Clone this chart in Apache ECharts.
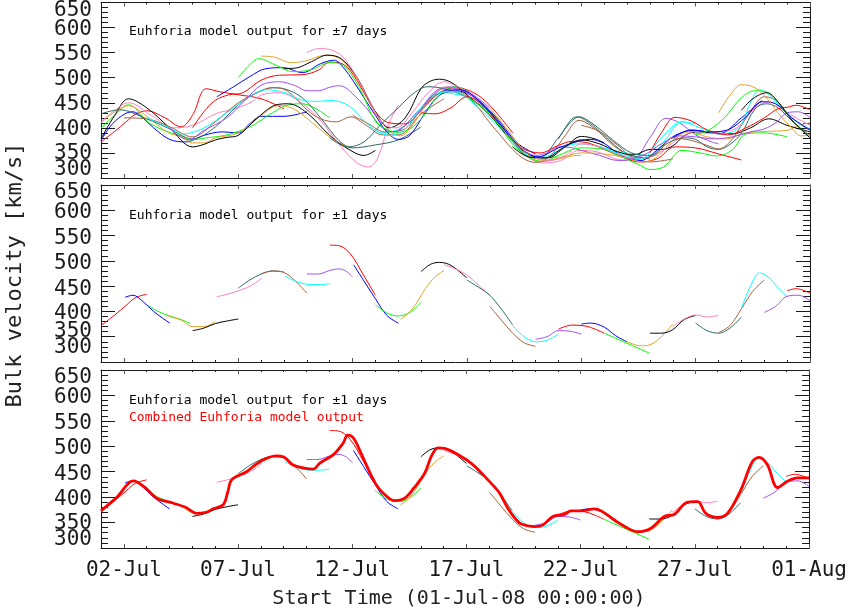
<!DOCTYPE html>
<html>
<head>
<meta charset="utf-8">
<title>Euhforia bulk velocity</title>
<script src="https://cdn.jsdelivr.net/npm/echarts@6/dist/echarts.min.js"></script>
<style>
  html, body { margin: 0; padding: 0; background: #fff; }
  #chart { width: 850px; height: 613px; }
</style>
</head>
<body>
<div id="chart"></div>
<script>
// x = days since 01-Jul-08 00:00, y = bulk velocity in km/s
const dayTicks = [1, 6, 11, 16, 21, 26, 31]
const dayLabels = ['02-Jul', '07-Jul', '12-Jul', '17-Jul', '22-Jul', '27-Jul', '01-Aug']
const runColors = ['#ff0000', '#0000ff', '#00ff00', '#e6a329', '#000000', '#ff80c0', '#2f6b66', '#a5623e', '#00ffff', '#a050f0']

// ±1 day output, one short piece per model run (run i covers days i..i+2)
const d00 = [[0,372],[0.6,393],[1.1,412],[1.5,427],[2.0,434]]
const d01 = [[1.05,428],[1.4,432],[1.8,421],[2.3,400],[3.0,377]]
const d02 = [[2.05,412],[2.5,400],[3.0,391],[3.5,384],[3.9,376]]
const d03 = [[2.95,390],[3.5,383],[4.0,370],[4.5,370],[5.0,380]]
const d04 = [[4.0,362],[4.5,367],[5.0,376],[5.5,381],[6.0,385]]
const d05 = [[5.06,429],[5.6,435],[6.1,442],[6.6,452],[7.03,466]]
const d06 = [[6.0,446],[6.5,462],[7.0,474],[7.5,480],[8.0,478]]
const d07 = [[7.0,474],[7.5,480],[8.0,477],[8.5,460],[9.0,436]]
const d08 = [[8.05,470],[8.6,458],[9.2,453],[9.6,453],[10.0,455]]
const d09 = [[9.0,474],[9.5,474],[10.0,481],[10.4,484],[10.7,480],[11.0,468]]
const d10 = [[10.0,531],[10.4,530],[10.9,514],[11.5,470],[12.0,432]]
const d11 = [[11.05,492],[11.5,460],[12.0,425],[12.5,392],[13.0,377]]
const d12 = [[12.0,413],[12.5,397],[13.0,391],[13.5,398],[14.0,418]]
const d13 = [[13.1,384],[13.6,404],[14.2,446],[14.6,468],[15.0,481]]
const d14 = [[14.0,479],[14.4,493],[14.8,497],[15.3,491],[16.0,466]]
const d15 = [[15.0,492],[15.5,484],[16.0,472],[16.5,452],[17.0,432]]
const d16 = [[16.0,462],[16.5,448],[17.0,432],[17.5,405],[18.0,373]]
const d17 = [[17.0,410],[17.5,383],[18.0,357],[18.5,338],[19.0,331]]
const d18 = [[18.0,372],[18.5,350],[19.0,340],[19.5,343],[20.0,355]]
const d19 = [[19.0,345],[19.5,350],[20.0,362],[20.5,361],[21.0,355]]
const d20 = [[20.0,365],[20.6,373],[21.2,371],[21.6,365],[22.0,357]]
const d21 = [[21.0,375],[21.4,377],[22.0,369],[22.5,352],[23.0,340]]
const d22 = [[22.0,357],[22.5,347],[23.0,337],[23.5,327],[24.0,317]]
const d23 = [[23.0,340],[23.6,332],[24.0,334],[24.5,350],[25.0,375]]
const d24 = [[24.0,357],[24.5,357],[25.0,364],[25.5,384],[26.0,392]]
const d25 = [[25.0,370],[25.5,385],[26.0,393],[26.5,389],[27.0,392]]
const d26 = [[26.0,377],[26.5,362],[27.0,357],[27.5,367],[28.0,389]]
const d27 = [[27.0,358],[27.5,372],[28.0,405],[28.5,440],[29.0,462]]
const d28 = [[28.0,406],[28.4,450],[28.8,476],[29.2,467],[29.6,447],[30.0,429]]
const d29 = [[29.0,398],[29.5,410],[30.0,430],[30.5,432],[31.0,421]]
const d30 = [[30.0,441],[30.4,445],[31.0,436]]

// ±7 day output, one line per model run (run i covers days i-6..i+8)
const w00 = [[0,372],[0.6,393],[1.1,412],[1.5,427],[2.0,434],[2.8,420],[3.5,402],[4.0,425],[4.6,478],[5.2,472],[6.0,466],[7.0,458],[8.0,438]]
const w01 = [[0,375],[0.5,408],[1.05,428],[1.4,432],[1.8,421],[2.3,400],[3.0,377],[3.7,372],[4.5,385],[5.3,392],[6.0,390],[6.5,408],[7.0,423],[8.0,423],[9.0,432]]
const w02 = [[0,400],[0.6,425],[1.2,446],[2.05,412],[2.5,400],[3.0,391],[3.5,384],[3.9,376],[4.6,380],[5.5,386],[6.5,402],[7.5,430],[8.2,446],[8.8,448],[9.4,438],[10.0,420]]
const w03 = [[0,410],[0.6,432],[1.2,444],[2.0,423],[2.95,390],[3.5,383],[4.0,370],[4.5,370],[5.0,380],[6.0,390],[7.0,425],[7.8,445],[8.5,436],[9.5,400],[10.3,372],[11.0,360]]
const w04 = [[0,378],[0.6,425],[1.2,458],[2.0,440],[3.0,400],[4.0,362],[4.5,367],[5.0,376],[5.5,381],[6.0,385],[6.8,418],[7.6,445],[8.2,448],[9.0,430],[10.0,385],[10.8,358],[11.5,345],[12.0,355]]
const w05 = [[0,412],[0.6,435],[1.2,450],[2.2,425],[3.2,400],[4.0,405],[5.06,429],[5.6,435],[6.1,442],[6.6,452],[7.03,466],[7.8,470],[8.6,455],[9.5,420],[10.5,362],[11.2,330],[11.7,322],[12.1,340],[12.6,410],[13.0,445]]
const w06 = [[0,428],[0.8,436],[2.0,418],[3.0,398],[4.0,378],[5.0,402],[6.0,446],[6.5,462],[7.0,474],[7.5,480],[8.0,478],[8.8,460],[9.6,420],[10.4,375],[11.0,360],[12.0,366],[13.0,376],[14.0,402]]
const w07 = [[1.0,420],[2.0,418],[3.0,402],[4.0,382],[5.0,412],[6.0,450],[7.0,474],[7.5,480],[8.0,477],[8.5,460],[9.0,436],[9.6,418],[10.3,412],[10.9,422],[11.6,405],[12.3,386],[13.0,386],[14.0,428],[15.0,458]]
const w08 = [[2.0,420],[3.0,400],[3.6,388],[4.5,400],[5.5,430],[6.5,462],[7.2,476],[8.05,470],[8.6,458],[9.2,453],[9.6,453],[10.0,455],[10.8,445],[11.6,410],[12.3,390],[13.2,402],[14.0,440],[15.0,470],[16.0,462]]
const w09 = [[3.0,400],[3.8,376],[4.5,395],[5.5,420],[6.3,455],[7.0,485],[7.8,492],[8.5,484],[9.0,474],[9.5,474],[10.0,481],[10.4,484],[10.7,480],[11.0,468],[11.6,440],[12.3,400],[12.8,392],[13.8,430],[14.8,478],[15.5,482],[16.3,465],[17.0,440]]
const w10 = [[4.0,400],[4.5,432],[5.0,455],[5.6,466],[6.2,470],[7.0,495],[7.8,505],[8.8,506],[9.5,515],[10.0,531],[10.4,530],[10.9,514],[11.5,470],[12.0,432],[12.6,410],[13.3,408],[14.0,435],[14.8,470],[15.5,480],[16.3,470],[17.0,445],[18.0,390]]
const w11 = [[5.06,462],[5.8,482],[6.5,502],[7.2,518],[8.0,520],[8.8,510],[9.6,528],[10.2,535],[10.6,520],[11.05,492],[11.5,460],[12.0,425],[12.5,392],[13.0,377],[13.5,385],[14.2,432],[14.8,465],[15.5,474],[16.3,462],[17.2,425],[18.2,370],[19.0,348]]
const w12 = [[6.0,500],[6.5,526],[6.9,538],[7.6,526],[8.4,512],[9.2,516],[10.0,530],[10.6,524],[11.3,480],[12.0,413],[12.5,397],[13.0,391],[13.5,398],[14.0,418],[14.8,466],[15.5,482],[16.3,462],[17.3,410],[18.2,358],[19.0,340],[20.0,342]]
const w13 = [[7.0,543],[7.6,541],[8.3,530],[9.0,534],[9.8,545],[10.5,536],[11.3,490],[12.2,415],[13.1,384],[13.6,404],[14.2,446],[14.6,468],[15.0,481],[15.8,476],[16.8,440],[17.8,385],[18.6,345],[19.3,333],[20.0,338],[20.6,344],[21.0,345]]
const w14 = [[8.0,518],[8.6,520],[9.2,532],[9.9,545],[10.5,538],[11.2,500],[12.0,432],[12.6,400],[13.3,420],[14.0,479],[14.4,493],[14.8,497],[15.3,491],[16.0,466],[17.0,425],[18.0,372],[18.8,345],[19.5,340],[20.3,362],[21.0,383],[21.6,378],[22.0,370]]
const w15 = [[9.0,550],[9.5,558],[10.1,555],[10.7,535],[11.5,475],[12.3,410],[12.9,400],[13.6,430],[14.3,470],[15.0,492],[15.5,484],[16.0,472],[16.5,452],[17.0,432],[17.8,385],[18.7,340],[19.4,330],[20.1,335],[20.9,355],[21.7,352],[22.5,338],[23.0,335]]
const w16 = [[10.0,380],[10.8,362],[11.5,372],[12.2,405],[13.0,440],[13.7,470],[14.3,482],[15.0,478],[16.0,462],[16.5,448],[17.0,432],[17.5,405],[18.0,373],[18.6,345],[19.2,342],[20.0,380],[20.8,422],[21.5,405],[22.3,372],[23.0,348],[24.0,338]]
const w17 = [[11.0,425],[11.7,408],[12.4,392],[13.2,396],[14.0,436],[14.8,470],[15.6,472],[16.3,450],[17.0,410],[17.5,383],[18.0,357],[18.5,338],[19.0,331],[19.6,342],[20.3,385],[20.9,415],[21.6,398],[22.4,365],[23.2,342],[24.0,332],[25.0,338]]
const w18 = [[12.0,395],[12.6,385],[13.3,398],[14.0,440],[14.8,470],[15.5,472],[16.3,448],[17.2,410],[18.0,372],[18.5,350],[19.0,340],[19.5,343],[20.0,355],[20.8,368],[21.6,365],[22.4,355],[23.2,348],[24.0,345],[24.7,378],[25.4,412],[26.0,408]]
const w19 = [[13.0,395],[13.7,420],[14.5,465],[15.2,480],[16.0,470],[17.0,430],[18.0,375],[19.0,345],[19.5,350],[20.0,362],[20.5,361],[21.0,355],[21.8,345],[22.6,335],[23.3,338],[24.0,380],[24.7,419],[25.3,410],[26.0,386],[26.7,372],[27.0,368]]
const w20 = [[14.0,430],[14.6,428],[15.3,440],[16.0,462],[16.8,440],[17.6,395],[18.4,360],[19.2,350],[20.0,365],[20.6,373],[21.2,371],[21.6,365],[22.0,357],[22.8,342],[23.5,332],[24.3,338],[25.1,362],[26.0,360],[27.0,348],[28.0,336]]
const w21 = [[15.0,475],[15.7,476],[16.5,455],[17.4,410],[18.3,362],[19.1,342],[20.0,360],[21.0,375],[21.4,377],[22.0,369],[22.5,352],[23.0,340],[23.6,335],[24.3,355],[25.1,385],[26.0,395],[27.0,388],[28.0,420],[28.9,455]]
const w22 = [[16.0,462],[16.8,435],[17.7,390],[18.6,345],[19.3,333],[20.0,345],[21.0,360],[22.0,357],[22.5,347],[23.0,337],[23.5,327],[24.0,317],[24.6,322],[25.4,355],[26.2,350],[26.9,344],[27.6,356],[28.2,388],[29.0,390],[30.0,382]]
const w23 = [[17.0,440],[17.8,395],[18.6,350],[19.4,335],[20.2,342],[21.0,350],[22.0,348],[23.0,340],[23.6,332],[24.0,334],[24.5,350],[25.0,375],[25.7,392],[26.5,382],[27.3,378],[28.2,390],[29.1,393],[30.0,395],[30.5,405],[31.0,410]]
const w24 = [[18.0,362],[18.7,342],[19.4,340],[20.2,360],[21.0,376],[21.8,368],[22.6,352],[23.3,346],[24.0,357],[24.5,357],[25.0,364],[25.5,384],[26.0,392],[26.8,390],[27.6,388],[28.4,400],[29.2,418],[30.0,405],[31.0,392]]
const w25 = [[19.0,340],[19.6,335],[20.3,345],[21.0,368],[21.8,362],[22.6,348],[23.4,338],[24.2,345],[25.0,370],[25.5,385],[26.0,393],[26.5,389],[27.0,392],[27.8,400],[28.6,440],[29.2,452],[30.0,430],[31.0,405]]
const w26 = [[20.0,378],[20.9,422],[21.6,405],[22.4,375],[23.2,350],[24.0,345],[24.8,370],[25.5,380],[26.0,377],[26.5,362],[27.0,357],[27.5,367],[28.0,389],[28.6,438],[29.1,448],[29.6,440],[30.3,410],[31.0,385]]
const w27 = [[21.0,405],[21.8,393],[22.6,365],[23.4,340],[24.2,345],[25.0,380],[25.8,375],[26.5,365],[27.0,358],[27.5,372],[28.0,405],[28.5,440],[29.0,462],[29.5,455],[30.2,420],[31.0,395]]
const w28 = [[22.0,360],[22.8,346],[23.6,338],[24.5,380],[25.4,412],[26.2,400],[27.0,388],[27.6,392],[28.0,406],[28.4,450],[28.8,476],[29.2,467],[29.6,447],[30.0,429],[30.5,410],[31.0,398]]
const w29 = [[23.0,338],[23.7,345],[24.5,368],[25.3,384],[26.0,382],[26.8,378],[27.6,382],[28.4,392],[29.0,398],[29.5,410],[30.0,430],[30.5,432],[31.0,421]]
const w30 = [[24.0,350],[24.5,390],[25.1,421],[25.8,414],[26.5,396],[27.4,386],[28.2,400],[29.0,420],[29.6,438],[30.0,441],[30.4,445],[31.0,436]]
const w31 = [[25.0,380],[25.8,396],[26.6,392],[27.4,396],[28.2,422],[28.9,452],[29.5,448],[30.2,420],[31.0,396]]
const w32 = [[26.0,386],[26.6,396],[27.3,422],[28.0,460],[28.6,474],[29.2,470],[29.8,440],[30.4,406],[31.0,382]]
const w33 = [[27.0,430],[27.5,465],[28.0,486],[28.5,482],[29.0,465],[29.6,430],[30.2,400],[30.6,384],[31.0,386]]
const w34 = [[28.0,435],[28.5,458],[29.1,470],[29.6,452],[30.2,416],[31.0,380]]

// combined Euhforia output (thick red, bottom panel)
const combined = [[0,373],[0.7,400],[1.42,432],[1.9,420],[2.44,398],[3.17,388],[3.7,380],[4.2,368],[4.6,370],[4.91,377],[5.35,385],[5.55,410],[5.72,434],[6.37,450],[6.8,465],[7.24,476],[7.68,481],[8.0,479],[8.41,463],[8.9,457],[9.29,455],[9.58,467],[10.16,483],[10.6,506],[10.8,522],[11.04,517],[11.3,495],[11.62,463],[12.0,428],[12.35,408],[12.86,393],[13.3,398],[13.7,418],[14.17,447],[14.46,480],[14.75,497],[15.04,496],[15.62,484],[16.2,467],[16.6,450],[16.94,434],[17.45,408],[17.81,378],[18.1,360],[18.4,347],[18.98,342],[19.34,345],[19.78,362],[20.29,366],[20.58,373],[21.02,373],[21.6,377],[21.9,373],[22.48,355],[23.06,339],[23.49,332],[24.08,339],[24.66,362],[25.1,366],[25.68,390],[26.12,391],[26.48,368],[27.0,360],[27.43,368],[28.01,414],[28.52,470],[28.82,478],[29.18,463],[29.62,419],[30.05,431],[30.49,438],[31.0,438]]

const weekRuns = [w00,w01,w02,w03,w04,w05,w06,w07,w08,w09,w10,w11,w12,w13,w14,w15,w16,w17,w18,w19,
  w20,w21,w22,w23,w24,w25,w26,w27,w28,w29,w30,w31,w32,w33,w34]
const dayRuns = [d00,d01,d02,d03,d04,d05,d06,d07,d08,d09,d10,d11,d12,d13,d14,d15,d16,d17,d18,d19,
  d20,d21,d22,d23,d24,d25,d26,d27,d28,d29,d30]

const FONT = '"DejaVu Sans Mono", monospace'
const INK = '#1a1a1a'

const grids = [
  { left: 101, top: 2, width: 709, height: 176 },
  { left: 101, top: 185, width: 709, height: 177 },
  { left: 101, top: 370, width: 709, height: 178 }
]
// y tick labels, split in groups that never collide inside one axis,
// each with a vertical nudge in px (+ = down), per panel
const labelGroups = [
  [[[400, 500, 600], 2], [[450, 550], 2], [[350], 1], [[650], 8], [[300], -8]],
  [[[400, 500, 600], 2.5], [[450, 550], 3], [[350], -5], [[650], 7.5], [[300], -14.5]],
  [[[400, 500, 600], 2.5], [[450, 550], 3], [[350], 1], [[650], 7.5], [[300], -8]]
]
const Y_PER_GRID = 2 + labelGroups[0].length
const X_PER_GRID = 4

const xAxes = []
const yAxes = []
grids.forEach((g, gi) => {
  ;['bottom', 'top'].forEach(pos => {
    // one axis for the daily ticks (and the frame), one for the 5-day ticks
    xAxes.push({
      type: 'value', gridIndex: gi, min: 0, max: 31, interval: 1, position: pos,
      splitLine: { show: false },
      axisLine: { show: true, onZero: false, lineStyle: { color: INK } },
      axisTick: { show: true, inside: true, length: 2 },
      axisLabel: (gi === 2 && pos === 'bottom') ? {
        show: true, customValues: dayTicks, margin: 12,
        fontFamily: FONT, fontSize: 21, color: INK,
        formatter: v => dayLabels[dayTicks.indexOf(v)] || ''
      } : { show: false }
    })
    xAxes.push({
      type: 'value', gridIndex: gi, min: 0, max: 31, position: pos,
      splitLine: { show: false },
      axisLine: { show: false, onZero: false },
      axisTick: { show: true, inside: true, length: 4, customValues: dayTicks },
      axisLabel: { show: false }
    })
  })

  const yBase = { type: 'value', gridIndex: gi, min: 300, max: 650, interval: 50, splitLine: { show: false } }
  ;['left', 'right'].forEach(pos => {
    yAxes.push({
      ...yBase, position: pos,
      axisLine: { show: true, onZero: false, lineStyle: { color: INK } },
      axisTick: { show: true, inside: true, length: 14 },
      minorTick: { show: true, splitNumber: 5, length: 7 },
      axisLabel: { show: false }
    })
  })
  labelGroups[gi].forEach(([values, d]) => {
    yAxes.push({
      ...yBase, position: 'left',
      axisLine: { show: false, onZero: false },
      axisTick: { show: false },
      axisLabel: {
        show: true, customValues: values, margin: 9,
        formatter: v => '{a|' + v + '}',
        rich: { a: {
          fontFamily: FONT, fontSize: 21, color: INK,
          padding: d >= 0 ? [2 * d, 0, 0, 0] : [0, 0, -2 * d, 0]
        } }
      }
    })
  })
})

const thin = (pts, color, gi) => ({
  type: 'line', xAxisIndex: gi * X_PER_GRID, yAxisIndex: gi * Y_PER_GRID,
  data: pts, showSymbol: false, smooth: 0.35, silent: true,
  lineStyle: { color, width: 1 }
})

const series = []
weekRuns.forEach((pts, i) => series.push(thin(pts, runColors[i % 10], 0)))
dayRuns.forEach((pts, i) => series.push(thin(pts, runColors[i % 10], 1)))
dayRuns.forEach((pts, i) => series.push(thin(pts, runColors[i % 10], 2)))
series.push({
  type: 'line', xAxisIndex: 2 * X_PER_GRID, yAxisIndex: 2 * Y_PER_GRID, data: combined,
  showSymbol: false, smooth: 0.35, silent: true, z: 5,
  lineStyle: { color: '#ff0000', width: 2.8 }
})

const txt = (x, y, text, size, color) => ({
  type: 'text', x, y, silent: true,
  style: { text, fill: color, font: size + 'px ' + FONT, textVerticalAlign: 'middle', verticalAlign: 'middle' }
})

const chart = echarts.init(document.getElementById('chart'))
chart.setOption({
  animation: false,
  backgroundColor: '#fff',
  grid: grids,
  xAxis: xAxes,
  yAxis: yAxes,
  series,
  graphic: [
    txt(129, 32, 'Euhforia model output for \u00b17 days', 13, '#000'),
    txt(129, 216, 'Euhforia model output for \u00b11 days', 13, '#000'),
    txt(129, 401, 'Euhforia model output for \u00b11 days', 13, '#000'),
    txt(129, 418, 'Combined Euhforia model output', 13, '#ff0000'),
    {
      type: 'text', x: 15, y: 275, rotation: Math.PI / 2, silent: true,
      style: { text: 'Bulk velocity [km/s]', fill: '#222', font: '22px ' + FONT,
        textAlign: 'center', align: 'center', textVerticalAlign: 'middle', verticalAlign: 'middle' }
    },
    {
      type: 'text', x: 459, y: 599, silent: true,
      style: { text: 'Start Time (01-Jul-08 00:00:00)', fill: '#222', font: '20px ' + FONT,
        textAlign: 'center', align: 'center', textVerticalAlign: 'middle', verticalAlign: 'middle' }
    }
  ]
})
window.addEventListener('resize', () => chart.resize())
</script>
</body>
</html>
